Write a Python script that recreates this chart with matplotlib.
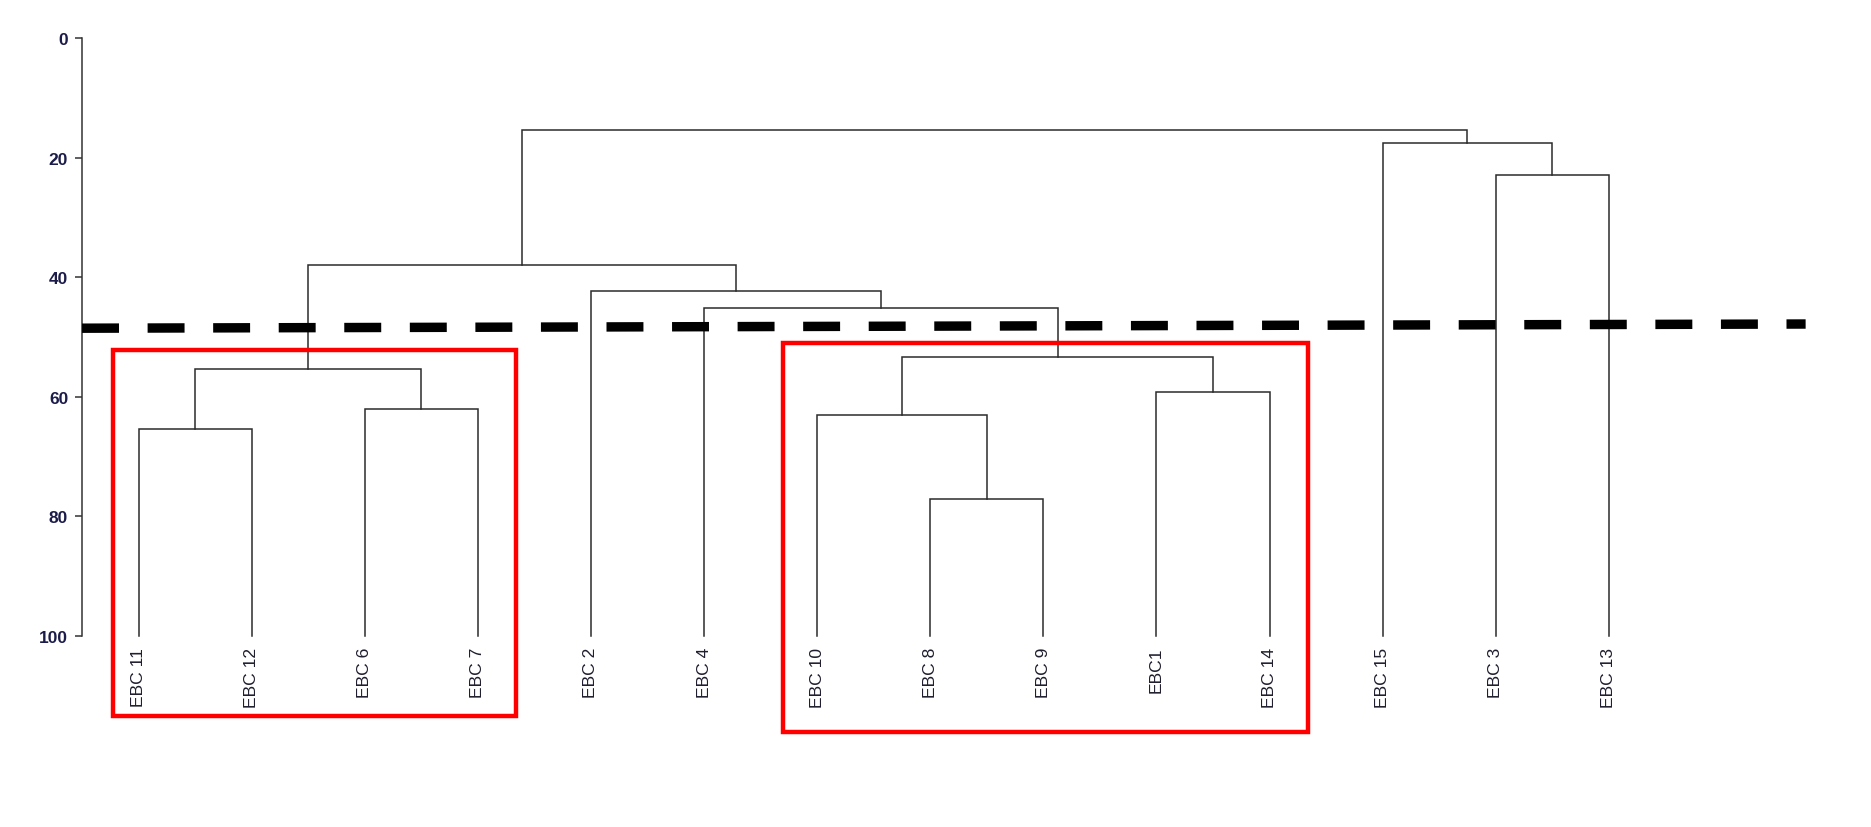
import matplotlib
matplotlib.use("Agg")
import matplotlib.pyplot as plt
from matplotlib.patches import Rectangle

# ---------------- data ----------------
leaves = ["EBC 11", "EBC 12", "EBC 6", "EBC 7", "EBC 2", "EBC 4", "EBC 10",
          "EBC 8", "EBC 9", "EBC1", "EBC 14", "EBC 15", "EBC 3", "EBC 13"]
leaf_height = 100

# merges: node ids 0..13 are leaves, merge k gets id 14 + k
merge_left = [0, 2, 14, 7, 6, 9, 18, 5, 4, 16, 12, 11, 23]
merge_right = [1, 3, 15, 8, 17, 10, 19, 20, 21, 22, 13, 24, 25]
merge_height = [65.4, 62.0, 55.4, 77.1, 63.0, 59.1, 53.4, 45.1, 42.2, 37.9,
                22.8, 17.5, 15.4]

yticks = [0, 20, 40, 60, 80, 100]

# cut line (dashed), endpoints in (leaf index, height)
cut_x = [-0.5, 14.74]
cut_y = [48.5, 47.8]

# highlighted cluster boxes: (x0, x1, y_top, y_bottom)
box1 = (-0.226, 3.337, 52.15, 113.4)
box2 = (5.695, 10.339, 51.0, 116.0)

# ---------------- figure ----------------
plt.rcParams["lines.scale_dashes"] = False
fig = plt.figure(figsize=(18.71, 8.28), dpi=100)
ax = fig.add_axes([0, 0, 1, 1])
ax.set_xlim(-1.2255, 15.318)
ax.set_ylim(131.95, -6.575)

pos = {i: float(i) for i in range(len(leaves))}
hgt = {i: float(leaf_height) for i in range(len(leaves))}
tree_color = "#2b2b2b"
for k, (a, b, h) in enumerate(zip(merge_left, merge_right, merge_height)):
    nid = len(leaves) + k
    xa, xb = pos[a], pos[b]
    ax.plot([xa, xa, xb, xb], [hgt[a], h, h, hgt[b]], color=tree_color,
            lw=1.1, solid_joinstyle="miter", zorder=2)
    pos[nid] = (xa + xb) / 2
    hgt[nid] = h

for i, lab in enumerate(leaves):
    ax.text(i, 101.8, lab, rotation=90, ha="center", va="top",
            fontsize=12.6, color="#1e1e2e",
            family=["Liberation Sans Narrow", "Liberation Sans", "DejaVu Sans"])

# dashed cut line
ax.plot(cut_x, cut_y, color="black", lw=6.8, dashes=(26.6, 20.6),
        dash_capstyle="butt", zorder=4)

# red boxes
for (x0, x1, yt, yb) in (box1, box2):
    ax.add_patch(Rectangle((x0, yt), x1 - x0, yb - yt, fill=False,
                           edgecolor="#ff0000", lw=3.2, zorder=3))

# axis styling
for s in ["top", "right", "bottom"]:
    ax.spines[s].set_visible(False)
ax.spines["left"].set_position(("data", -0.5))
ax.spines["left"].set_bounds(0, 100)
ax.spines["left"].set_color("#333333")
ax.spines["left"].set_linewidth(1.1)
ax.set_xticks([])
ax.set_yticks(yticks)
ax.set_yticklabels([str(t) for t in yticks])
ax.tick_params(axis="y", direction="out", length=5, width=1.1, pad=5,
               labelsize=12.5, labelcolor="#1c1c4a", color="#333333")
for t in ax.get_yticklabels():
    t.set_family(["Liberation Sans", "DejaVu Sans"])
    t.set_fontweight("bold")
ax.patch.set_visible(False)

fig.savefig("out.png", dpi=100, facecolor="white")
